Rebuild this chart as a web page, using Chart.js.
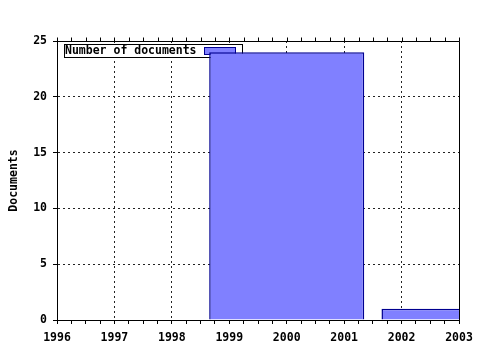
<!DOCTYPE html>
<html>
<head>
<meta charset="utf-8">
<script src="https://cdn.jsdelivr.net/npm/chart.js@4/dist/chart.umd.min.js"></script>
<style>
  html, body { margin: 0; padding: 0; background: #fff; }
  canvas { display: block; }
</style>
</head>
<body>
<canvas id="kaavio" width="480" height="350"></canvas>
<script>
// data
const vuodet = [2000, 2003];
const dokumentit = [24, 1];
const sarjaNimi = 'Number of documents';
const akseliNimi = 'Documents';
const xMin = 1996, xMax = 2003, xAskel = 0.25;
const yMin = 0, yMax = 25, yAskel = 5;
const palkinLeveysVuosina = 2.7;

const fontti = { family: 'DejaVu Sans Mono', size: 11.5, weight: 'bold' };
const palkkiVari = '#8080ff';
const reunaVari = '#000090';

// selite + kehys + ylälaidan tikit
const kehysPlugin = {
  id: 'kehys',
  beforeDatasetsDraw(chart) {
    const { ctx, chartArea } = chart;
    const x0 = chartArea.left + 7.5, y0 = chartArea.top + 3.5;
    ctx.save();
    ctx.fillStyle = '#fff';
    ctx.strokeStyle = '#000';
    ctx.lineWidth = 1;
    ctx.fillRect(x0, y0, 178, 13);
    ctx.strokeRect(x0, y0, 178, 13);
    ctx.font = 'bold 11.5px "DejaVu Sans Mono"';
    ctx.fillStyle = '#000';
    ctx.textBaseline = 'middle';
    ctx.fillText(sarjaNimi, x0 + 0.5, y0 + 7);
    ctx.fillStyle = palkkiVari;
    ctx.strokeStyle = reunaVari;
    ctx.fillRect(x0 + 140, y0 + 3, 31, 7);
    ctx.strokeRect(x0 + 140, y0 + 3, 31, 7);
    ctx.restore();
  },
  afterDatasetsDraw(chart) {
    const { ctx, chartArea, scales } = chart;
    ctx.save();
    ctx.strokeStyle = '#000';
    ctx.lineWidth = 1;
    ctx.beginPath();
    const yt = Math.round(chartArea.top) + 0.5;
    const xr = Math.round(chartArea.right) + 0.5;
    ctx.moveTo(Math.round(chartArea.left) + 0.5, yt);
    ctx.lineTo(xr, yt);
    ctx.lineTo(xr, Math.round(chartArea.bottom) + 0.5);
    scales.x.ticks.forEach(t => {
      const px = Math.round(scales.x.getPixelForValue(t.value)) + 0.5;
      ctx.moveTo(px, yt);
      ctx.lineTo(px, yt - 4);
    });
    ctx.stroke();
    ctx.restore();
  }
};

new Chart(document.getElementById('kaavio'), {
  type: 'bar',
  data: {
    datasets: [{
      label: sarjaNimi,
      data: vuodet.map((v, i) => ({ x: v, y: dokumentit[i] })),
      backgroundColor: palkkiVari,
      borderColor: reunaVari,
      borderWidth: 1.5,
      borderSkipped: 'start',
      categoryPercentage: 1,
      barPercentage: palkinLeveysVuosina / xAskel
    }]
  },
  options: {
    responsive: false,
    animation: false,
    layout: { padding: { top: 41, right: 21, left: 0, bottom: 0 } },
    plugins: { legend: { display: false }, tooltip: { enabled: false } },
    scales: {
      x: {
        type: 'linear',
        min: xMin, max: xMax,
        offset: false,
        afterFit: (s) => { s.height = 30; },
        ticks: {
          stepSize: xAskel,
          autoSkip: false,
          maxRotation: 0,
          padding: 7,
          color: '#000',
          font: fontti,
          callback: (v) => Number.isInteger(v) ? String(v) : ''
        },
        grid: {
          offset: false,
          drawTicks: true,
          tickLength: 4,
          tickColor: '#000',
          tickWidth: 1,
          lineWidth: 1,
          color: (c) => (c.tick && Number.isInteger(c.tick.value) && c.tick.value > xMin && c.tick.value < xMax) ? '#222' : 'rgba(0,0,0,0)'
        },
        border: { display: true, color: '#000', width: 1, dash: [2, 3] }
      },
      y: {
        min: yMin, max: yMax,
        afterFit: (s) => { s.width = 57; },
        ticks: { stepSize: yAskel, padding: 6, color: '#000', font: fontti },
        grid: {
          drawTicks: true,
          tickLength: 4,
          tickColor: '#000',
          tickWidth: 1,
          lineWidth: 1,
          color: (c) => (c.tick && c.tick.value > yMin && c.tick.value < yMax) ? '#222' : 'rgba(0,0,0,0)'
        },
        border: { display: true, color: '#000', width: 1, dash: [2, 3] },
        title: { display: true, text: akseliNimi, color: '#000', font: fontti, padding: { top: 7, bottom: 0 } }
      }
    }
  },
  plugins: [kehysPlugin]
});
</script>
</body>
</html>
